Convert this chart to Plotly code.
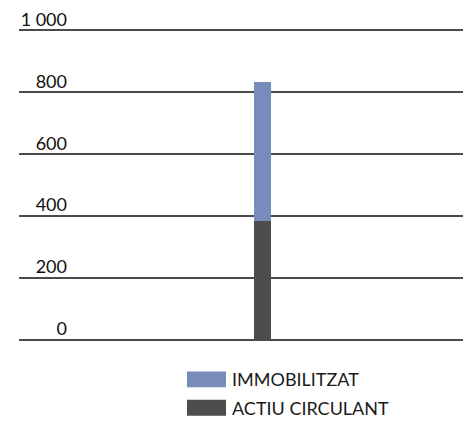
import plotly.graph_objects as go

categories = ["Balanç"]
series_names = ["ACTIU CIRCULANT", "IMMOBILITZAT"]
actiu_circulant = [383]
immobilitzat = [451]
series_colors = ["#4d4d4d", "#788cbc"]
tick_values = [0, 200, 400, 600, 800, 1000]
tick_labels = ["0", "200", "400", "600", "800", "1 000"]

FONT = "Lato"
OFF = 8  # page body margin
W, H = 471 - OFF, 422 - OFF
YMAX = 1040
SCALE = 312 / 1000  # px per unit
L, R = 19 - OFF, 0
T = (28 - OFF) - (YMAX - 1000) * SCALE
B = H - (340 - OFF)
pw = W - L - R
ph = H - T - B

fig = go.Figure()
for name, vals, col in zip(series_names, [actiu_circulant, immobilitzat], series_colors):
    fig.add_trace(go.Bar(
        x=[0] * len(categories), y=vals, name=name,
        marker=dict(color=col, line=dict(width=0)),
        width=17 / pw, showlegend=False,
        hovertext=categories,
    ))

def py(y_ref):
    return (T + ph - (y_ref - OFF)) / ph

def px(x_ref):
    return (x_ref - OFF - L) / pw

# manual legend (wide swatches), top row = IMMOBILITZAT
legend_rows = [(series_names[1], series_colors[1], 379.7), (series_names[0], series_colors[0], 408.3)]
for name, col, yc in legend_rows:
    fig.add_shape(type="rect", xref="paper", yref="paper",
                  x0=px(187), x1=px(226), y0=py(yc + 8), y1=py(yc - 8),
                  fillcolor=col, line=dict(width=0))
    fig.add_annotation(xref="paper", yref="paper", x=px(230),
                       y=py(yc), text=name, showarrow=False,
                       xanchor="left", yanchor="middle",
                       font=dict(family=FONT, size=18, color="#1a1a1a"))

fig.update_layout(
    width=W, height=H,
    margin=dict(l=L, r=R, t=T, b=B),
    barmode="stack",
    plot_bgcolor="white", paper_bgcolor="white",
    xaxis=dict(range=[-0.538, 0.462], visible=False),
    yaxis=dict(range=[0, YMAX], tickvals=tick_values, ticktext=tick_labels,
               showgrid=True, gridcolor="#4a4a4a", gridwidth=1.5,
               zeroline=True, zerolinecolor="#4a4a4a", zerolinewidth=1.5,
               showline=False, ticks="",
               ticklabelposition="outside", ticklabelstandoff=-49,
               ticklabelshift=-11, ticklabeloverflow="allow",
               tickfont=dict(family=FONT, size=18, color="#111")),
)

fig.write_html("out.html")
